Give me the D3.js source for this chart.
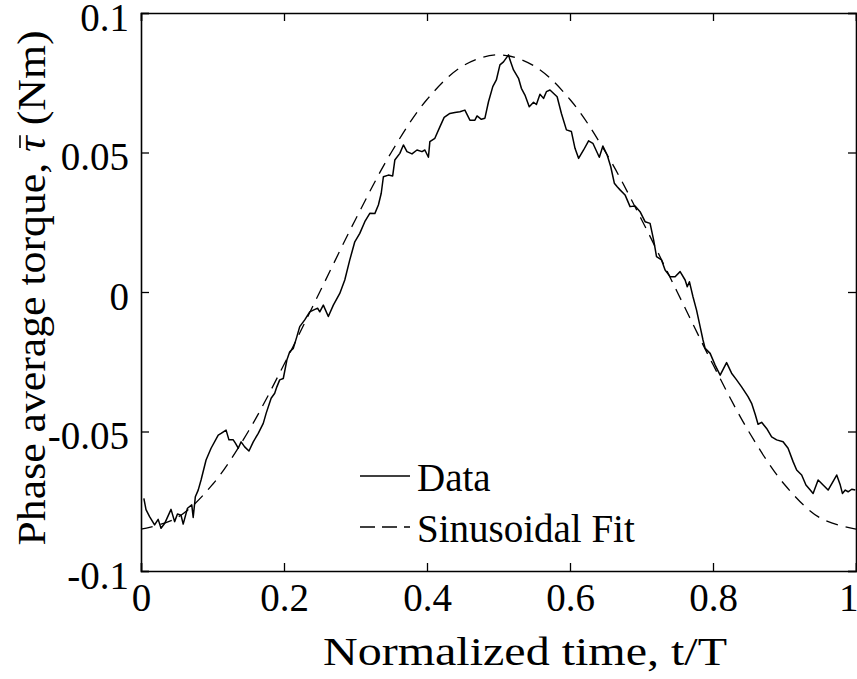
<!DOCTYPE html>
<html>
<head>
<meta charset="utf-8">
<script src="https://cdn.jsdelivr.net/npm/d3@7"></script>
<style>
  body { margin: 0; background: #fff; }
  text { font-family: "Liberation Serif", "Times New Roman", serif; fill: #000; white-space: pre; }
</style>
</head>
<body>
<svg id="chart" width="857" height="679"></svg>
<script>
// normalized time t/T of the measured curve
const dataT = [
  0.004, 0.007, 0.012, 0.019, 0.024, 0.028, 0.033, 0.042, 0.047, 0.051, 0.056, 0.059,
  0.065, 0.071, 0.073, 0.076, 0.080, 0.084, 0.091, 0.098, 0.108, 0.112, 0.119, 0.123,
  0.129, 0.132, 0.136, 0.140, 0.145, 0.151, 0.157, 0.164, 0.171, 0.175, 0.182, 0.187,
  0.190, 0.194, 0.199, 0.204, 0.208, 0.213, 0.218, 0.222, 0.229, 0.236, 0.241, 0.247,
  0.250, 0.255, 0.262, 0.269, 0.278, 0.285, 0.292, 0.299, 0.306, 0.313, 0.320, 0.327,
  0.332, 0.336, 0.339, 0.346, 0.352, 0.355, 0.362, 0.367, 0.372, 0.379, 0.386, 0.393,
  0.397, 0.402, 0.404, 0.411, 0.418, 0.424, 0.432, 0.439, 0.446, 0.453, 0.460, 0.467,
  0.470, 0.476, 0.481, 0.486, 0.492, 0.497, 0.502, 0.507, 0.514, 0.516, 0.521, 0.528,
  0.532, 0.537, 0.543, 0.549, 0.553, 0.558, 0.563, 0.567, 0.572, 0.582, 0.588, 0.595,
  0.602, 0.607, 0.612, 0.619, 0.626, 0.632, 0.641, 0.646, 0.652, 0.657, 0.662, 0.666,
  0.670, 0.677, 0.684, 0.691, 0.698, 0.705, 0.712, 0.717, 0.721, 0.728, 0.733, 0.740,
  0.747, 0.754, 0.761, 0.764, 0.767, 0.772, 0.777, 0.782, 0.786, 0.789, 0.796, 0.803,
  0.810, 0.819, 0.826, 0.833, 0.840, 0.849, 0.854, 0.859, 0.863, 0.868, 0.875, 0.882,
  0.889, 0.898, 0.905, 0.912, 0.917, 0.924, 0.930, 0.936, 0.940, 0.947, 0.954, 0.961,
  0.973, 0.978, 0.981, 0.985, 0.989, 0.994, 0.999
];

// phase average torque (Nm), measured
const dataTorque = [
  -0.0740, -0.0780, -0.0805, -0.0835, -0.0815, -0.0847, -0.0830, -0.0779, -0.0823, -0.0796, -0.0800, -0.0832,
  -0.0775, -0.0763, -0.0808, -0.0734, -0.0710, -0.0674, -0.0602, -0.0560, -0.0513, -0.0507, -0.0495, -0.0530,
  -0.0530, -0.0542, -0.0560, -0.0537, -0.0555, -0.0570, -0.0537, -0.0507, -0.0471, -0.0435, -0.0381, -0.0363,
  -0.0340, -0.0315, -0.0310, -0.0244, -0.0214, -0.0202, -0.0160, -0.0124, -0.0100, -0.0071, -0.0065, -0.0058,
  -0.0071, -0.0047, -0.0088, -0.0047, -0.0005, 0.0043, 0.0115, 0.0180, 0.0210, 0.0252, 0.0282, 0.0281,
  0.0312, 0.0354, 0.0413, 0.0419, 0.0416, 0.0473, 0.0497, 0.0527, 0.0503, 0.0495, 0.0509, 0.0503,
  0.0509, 0.0483, 0.0539, 0.0551, 0.0592, 0.0626, 0.0640, 0.0643, 0.0646, 0.0652, 0.0616, 0.0616,
  0.0631, 0.0619, 0.0623, 0.0682, 0.0736, 0.0760, 0.0814, 0.0825, 0.0850, 0.0832, 0.0796, 0.0766,
  0.0730, 0.0706, 0.0664, 0.0680, 0.0672, 0.0709, 0.0694, 0.0718, 0.0724, 0.0700, 0.0640, 0.0581,
  0.0575, 0.0515, 0.0479, 0.0509, 0.0542, 0.0533, 0.0483, 0.0523, 0.0491, 0.0449, 0.0390, 0.0377,
  0.0366, 0.0348, 0.0306, 0.0308, 0.0288, 0.0252, 0.0246, 0.0186, 0.0127, 0.0115, 0.0079, 0.0055,
  0.0055, 0.0073, 0.0043, 0.0019, 0.0037, -0.0017, -0.0065, -0.0124, -0.0172, -0.0202, -0.0220, -0.0262,
  -0.0298, -0.0253, -0.0291, -0.0315, -0.0340, -0.0375, -0.0399, -0.0438, -0.0474, -0.0467, -0.0489, -0.0519,
  -0.0530, -0.0537, -0.0560, -0.0608, -0.0638, -0.0656, -0.0692, -0.0710, -0.0722, -0.0674, -0.0692, -0.0710,
  -0.0656, -0.0692, -0.0722, -0.0710, -0.0716, -0.0707, -0.0710
];

// sinusoidal fit
const fitT = [0, 0.05, 0.1, 0.15, 0.2, 0.25, 0.3, 0.35, 0.4, 0.45, 0.5,
  0.55, 0.6, 0.65, 0.7, 0.75, 0.8, 0.85, 0.9, 0.95, 1];
const fitTorque = [-0.085, -0.081, -0.069, -0.050, -0.026, 0.000, 0.026, 0.050, 0.069, 0.081, 0.085,
  0.081, 0.069, 0.050, 0.026, 0.000, -0.026, -0.050, -0.069, -0.081, -0.085];

const xTicks = [0, 0.2, 0.4, 0.6, 0.8, 1];
const xTickLabels = ["0", "0.2", "0.4", "0.6", "0.8", "1"];
const yTicks = [-0.1, -0.05, 0, 0.05, 0.1];
const yTickLabels = ["-0.1", "-0.05", "0", "0.05", "0.1"];
const legendLabels = ["Data", "Sinusoidal Fit"];

const svg = d3.select("#chart");
const margin = { left: 141, right: 1, top: 13, bottom: 108 };
const width = +svg.attr("width"), height = +svg.attr("height");
const x0 = margin.left, x1 = width - margin.right;
const y0 = height - margin.bottom, y1 = margin.top;

const x = d3.scaleLinear().domain([0, 1]).range([x0, x1]);
const y = d3.scaleLinear().domain([-0.1, 0.1]).range([y0, y1]);

const fontSize = 39;
const tickLen = 8;

// curves first, then the box on top
const dataPts = dataT.map((t, i) => [t, dataTorque[i]]);
const fitPts = fitT.map((t, i) => [t, fitTorque[i]]);

svg.append("path")
  .datum(fitPts)
  .attr("d", d3.line().x(d => x(d[0])).y(d => y(d[1])).curve(d3.curveCatmullRom))
  .attr("fill", "none")
  .attr("stroke", "#000")
  .attr("stroke-width", 1.3)
  .attr("stroke-dasharray", "12,8");

svg.append("path")
  .datum(dataPts)
  .attr("d", d3.line().x(d => x(d[0])).y(d => y(d[1])))
  .attr("fill", "none")
  .attr("stroke", "#000")
  .attr("stroke-width", 1.5)
  .attr("stroke-linejoin", "round");

// axes box with inward ticks on all four sides
const bottomAxis = d3.axisBottom(x).tickValues(xTicks).tickSize(-tickLen).tickFormat((d, i) => xTickLabels[i]);
const topAxis = d3.axisTop(x).tickValues(xTicks).tickSize(-tickLen).tickFormat("");
const leftAxis = d3.axisLeft(y).tickValues(yTicks).tickSize(-tickLen).tickFormat((d, i) => yTickLabels[i]);
const rightAxis = d3.axisRight(y).tickValues(yTicks).tickSize(-tickLen).tickFormat("");

function styleAxis(g) {
  g.select(".domain").attr("stroke", "#000").attr("stroke-width", 1.6);
  g.selectAll(".tick line").attr("stroke", "#000").attr("stroke-width", 1.3);
  g.selectAll("text").attr("font-family", "Liberation Serif").attr("font-size", fontSize).attr("fill", "#000");
}

const gb = svg.append("g").attr("transform", `translate(0,${y0})`).call(bottomAxis).call(styleAxis);
gb.selectAll(".tick text").attr("y", 40).attr("dy", null);
// last label sits at the right edge like the original
gb.selectAll(".tick text").filter(d => d === 1).attr("text-anchor", "end").attr("x", 2);

svg.append("g").attr("transform", `translate(0,${y1})`).call(topAxis).call(styleAxis);

const gl = svg.append("g").attr("transform", `translate(${x0},0)`).call(leftAxis).call(styleAxis);
gl.selectAll(".tick text").attr("x", -12).attr("dy", null).attr("y", 17);

svg.append("g").attr("transform", `translate(${x1},0)`).call(rightAxis).call(styleAxis);

// axis titles
svg.append("text")
  .attr("x", 525)
  .attr("y", 665)
  .attr("text-anchor", "middle")
  .attr("font-size", fontSize)
  .attr("textLength", 404)
  .attr("lengthAdjust", "spacingAndGlyphs")
  .text("Normalized time, t/T");

const yTitleG = svg.append("g").attr("transform", "translate(45,288) rotate(-90)");
const yTitle = yTitleG.append("text")
  .attr("text-anchor", "middle")
  .attr("font-size", fontSize)
  .attr("textLength", 515)
  .attr("lengthAdjust", "spacingAndGlyphs");
const yPre = "Phase average torque, ";
yTitle.append("tspan").text(yPre);
yTitle.append("tspan").attr("font-style", "italic").text("\u03C4");
yTitle.append("tspan").text(" (Nm)");
// bar over tau
const tauBox = yTitle.node().getExtentOfChar(yPre.length);
yTitleG.append("line")
  .attr("x1", tauBox.x + 4)
  .attr("x2", tauBox.x + tauBox.width + 1)
  .attr("y1", -25)
  .attr("y2", -25)
  .attr("stroke", "#000")
  .attr("stroke-width", 1.6);

// legend
const legend = svg.append("g");
const legendY = [476, 527];
legend.selectAll("line.key")
  .data(legendLabels)
  .enter()
  .append("line")
  .attr("x1", 360)
  .attr("x2", 410)
  .attr("y1", (d, i) => legendY[i])
  .attr("y2", (d, i) => legendY[i])
  .attr("stroke", "#000")
  .attr("stroke-width", (d, i) => i === 0 ? 1.5 : 1.3)
  .attr("stroke-dasharray", (d, i) => i === 0 ? null : "15,7");

legend.selectAll("text")
  .data(legendLabels)
  .enter()
  .append("text")
  .attr("x", 417)
  .attr("y", (d, i) => legendY[i] + 15)
  .attr("font-size", fontSize)
  .text(d => d);
</script>
</body>
</html>
